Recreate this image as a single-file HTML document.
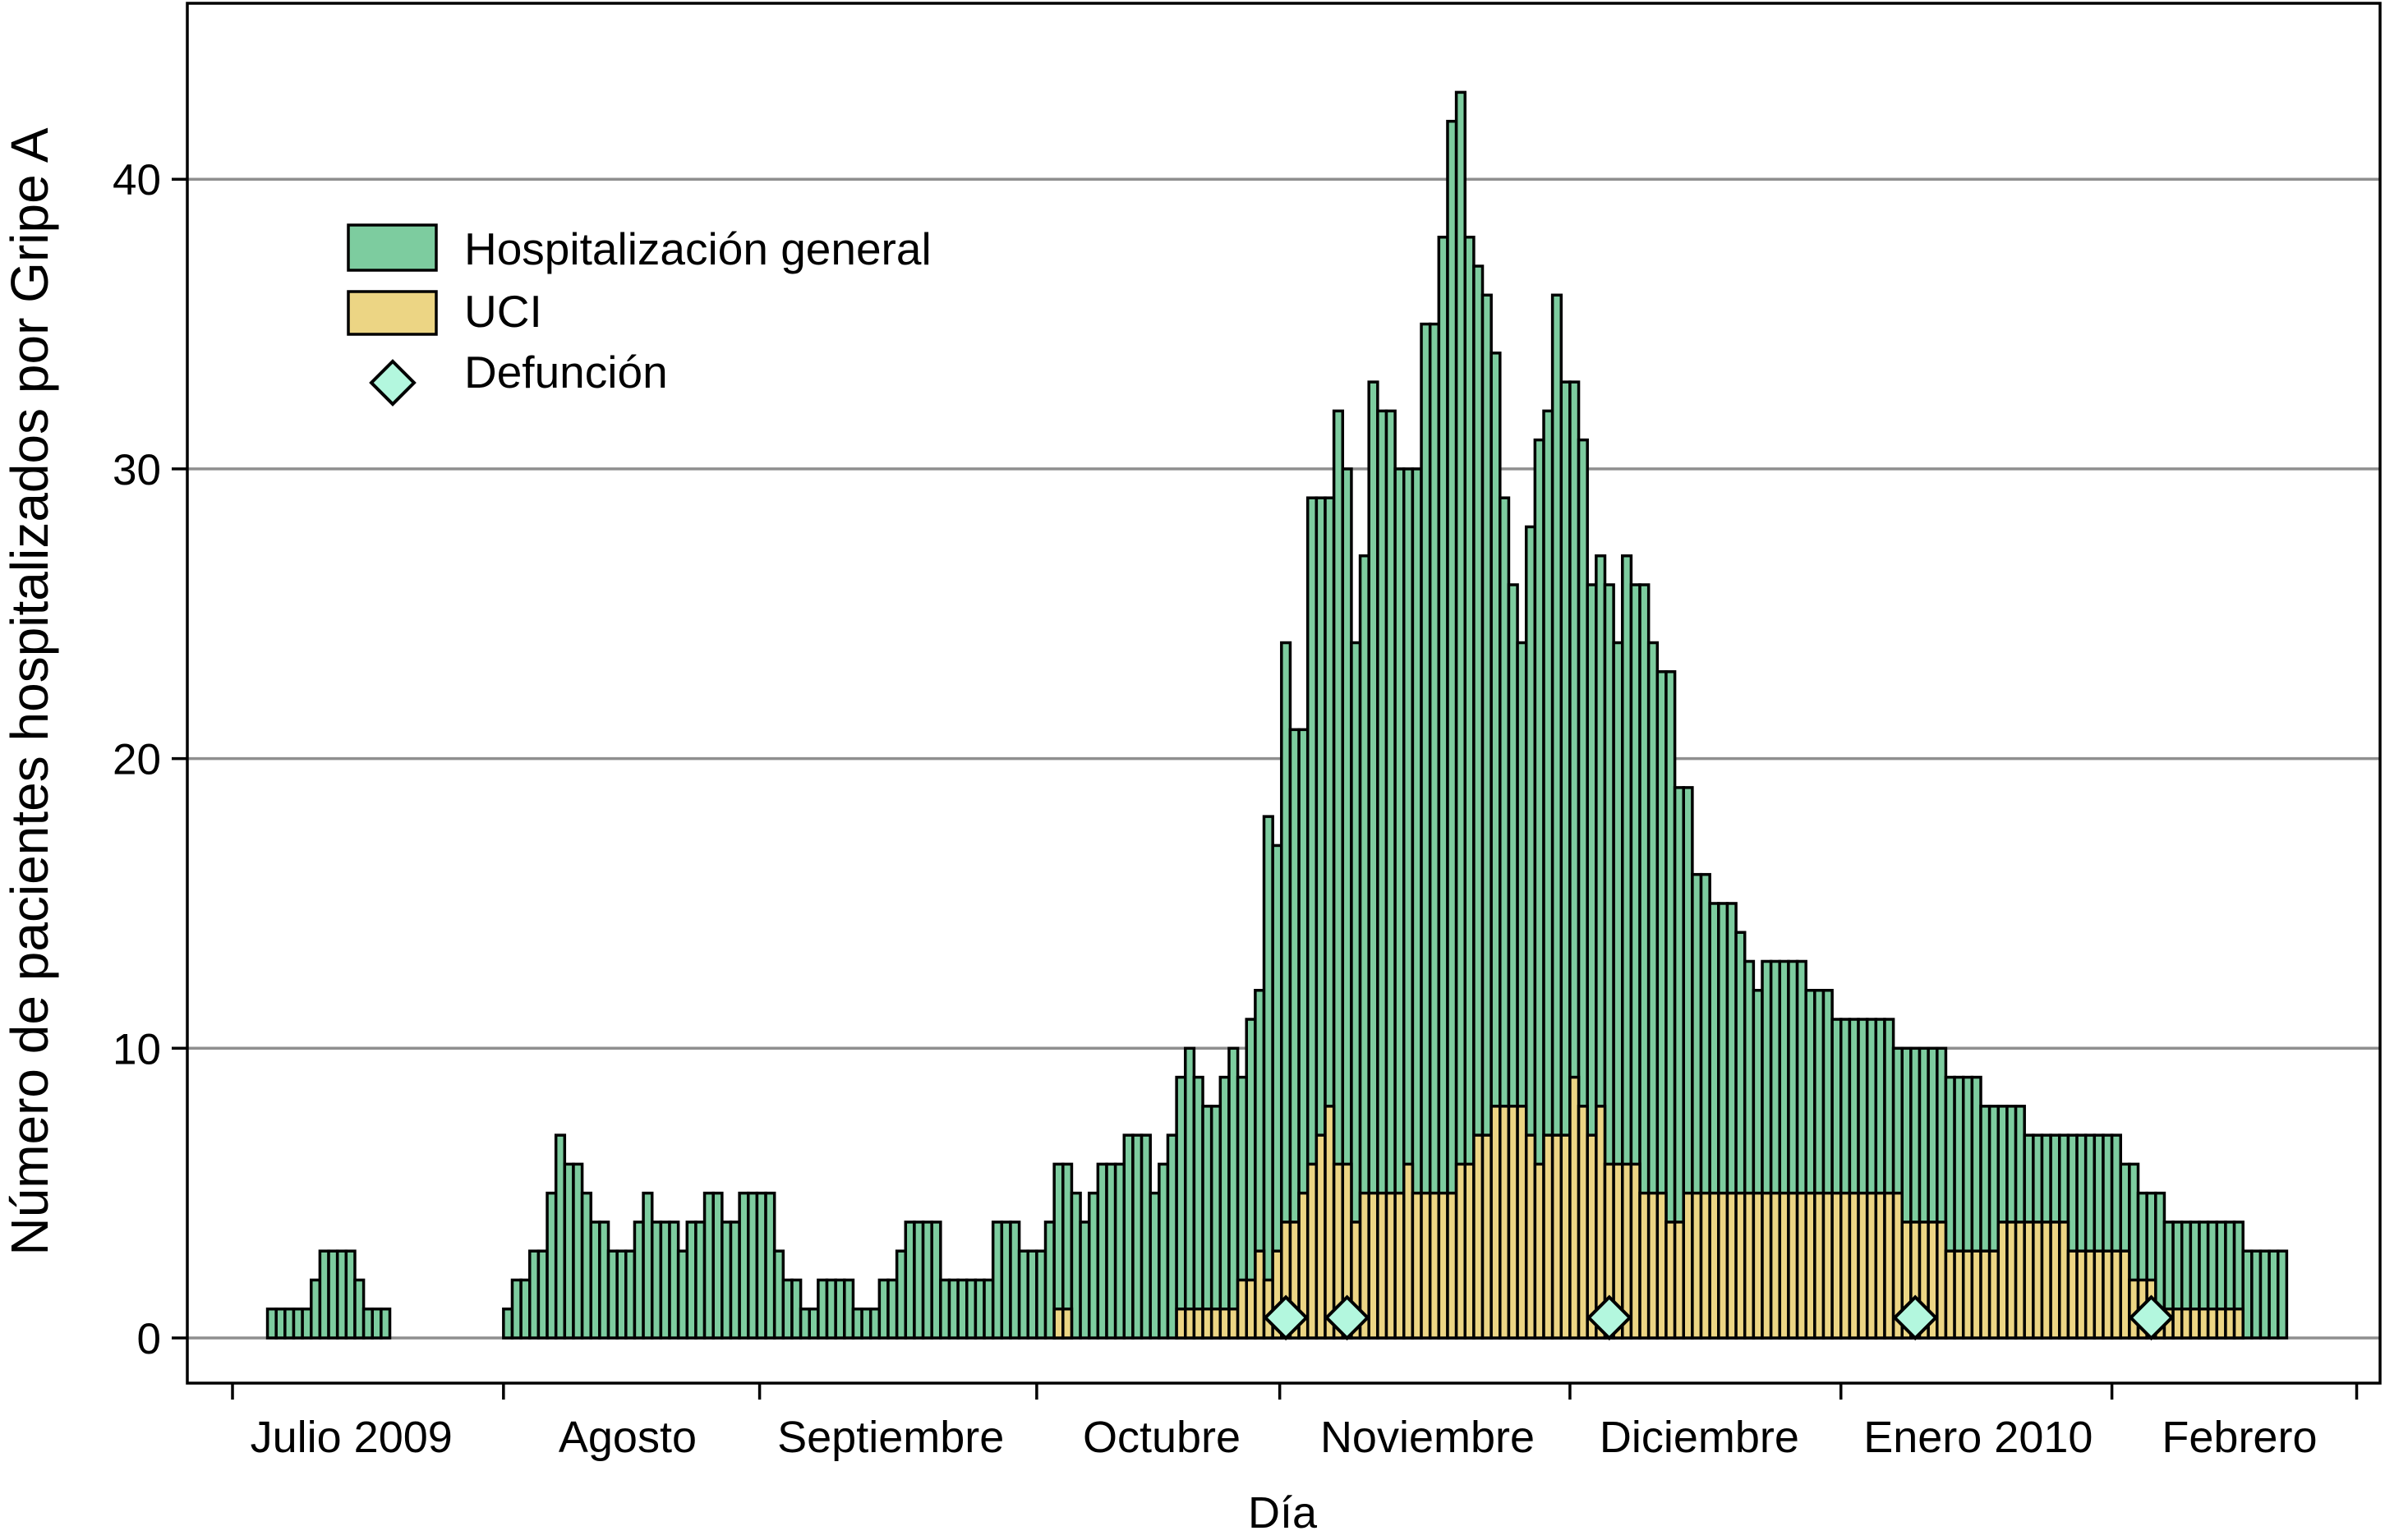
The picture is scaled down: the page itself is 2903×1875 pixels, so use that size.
<!DOCTYPE html>
<html><head><meta charset="utf-8"><style>
html,body{margin:0;padding:0;background:#fff;}
svg{display:block;font-family:"Liberation Sans",Arial,sans-serif;}
</style></head><body>
<svg id="chart" width="2903" height="1875" viewBox="0 0 2903 1875" xmlns="http://www.w3.org/2000/svg">
<g id="grid"></g>
<g id="bars"></g>
<g id="deaths"></g>
<rect x="228" y="4" width="2669" height="1680" fill="none" stroke="#000" stroke-width="3.5"/>
<g id="yaxis"></g>
<g id="xaxis"></g>
<text x="0" y="0" transform="translate(58,842) rotate(-90)" text-anchor="middle" font-size="64">Número de pacientes hospitalizados por Gripe A</text>
<text x="1561" y="1860" text-anchor="middle" font-size="54">Día</text>
<g>
<g>
<rect x="424" y="274" width="107" height="55" fill="#7dcc9f" stroke="#000" stroke-width="3.5"/>
<text x="565" y="322" font-size="55">Hospitalización general</text>
</g>
<g>
<rect x="424" y="355" width="107" height="52" fill="#ecd584" stroke="#000" stroke-width="3.5"/>
<text x="565" y="398" font-size="55">UCI</text>
</g>
<g>
<polygon points="478,440 504,466 478,492 452,466" fill="#b3f7de" stroke="#000" stroke-width="4"/>
<text x="565" y="472" font-size="55">Defunción</text>
</g>
</g>
</svg>
<script>
// daily values, day 0 = 1 July 2009
const generalValues = [0,0,0,0, 1,1,1,1,1,2,3,3,3,3,2,1,1,1, 0,0,0,0,0,0,0,0,0,0,0,0,0,
 1,2,2,3,3,5,7,6,6,5,4,4,3,3,3,
 4,5,4,4,4,3,4,4,5,5,4,4,5,5,5,5,3,2,2,1,1,2,2,2,2,1,1,1,2,2,3,4,4,4,4,2,2,2,2,2,2,4,4,4,3,3,3,
 4,
 6,6,5,4,5,6,6,6,7,7,7,5,6,7,9,10,9,8,8,9,10,9,11,12,
 18,17,24,21,21,29,29,29,32,30,24,27,33,32,32,30,30,30,35,35,38,42,43,38,37,36,34,
 29,26,24,28,31,32,36,33,33,31,26,27,26,24,27,26,26,24,23,23,19,19,16,16,
 15,15,15,14,13,12,13,13,13,13,13,12,12,12,11,11,11,11,11,11,11,10,10,10,10,10,10,9,9,9,9,8,8,8,8,8,
 7,7,7,7,7,7,7,7,7,7,7,6,6,5,5,5,4,4,4,4,4,4,4,4,4,3,3,3,3,3];
const uciValues = [0,0,0,0,0,0,0,0,0,0,0,0,0,0,0,0,0,0,0,0,0,0,0,0,0,0,0,0,0,0,0,
 0,0,0,0,0,0,0,0,0,0,0,0,0,0,0,
 0,0,0,0,0,0,0,0,0,0,0,0,0,0,0,0,0,0,0,0,0,0,0,0,0,0,0,0,0,0,0,0,0,0,0,0,0,0,0,0,0,0,0,0,0,0,0,
 0,
 1,1,0,0,0,0,0,0,0,0,0,0,0,0,1,1,1,1,1,1,1,2,2,3,
 2,3,4,4,5,6,7,8,6,6,4,5,5,5,5,5,6,5,5,5,5,5,6,6,7,7,8,
 8,8,8,7,6,7,7,7,9,8,7,8,6,6,6,6,5,5,5,4,4,5,5,5,
 5,5,5,5,5,5,5,5,5,5,5,5,5,5,5,5,5,5,5,5,5,5,4,4,4,4,4,3,3,3,3,3,3,4,4,4,4,4,4,4,4,
 3,3,3,3,3,3,3,2,2,2,1,1,1,1,1,1,1,1,1,1,0,0,0,0,0];
const deathDays = [120,127,157,192,219];
const deathLevel = [0.7,0.7,0.7,0.7,0.7];
const yTicks = [0,10,20,30,40];
const monthTickDays = [0,31,60.3,92,119.8,153,184,215,243];
const monthLabelDays = [13.6,45.2,75.3,106.3,136.7,167.8,199.7,229.6];
const monthLabels = ["Julio 2009","Agosto","Septiembre","Octubre","Noviembre","Diciembre","Enero 2010","Febrero"];

const NS = "http://www.w3.org/2000/svg";
const X0 = 283, DAYW = 10.64, Y0 = 1629, UNIT = 35.27;
function xScale(d){ return X0 + d*DAYW; }
function yScale(v){ return Y0 - v*UNIT; }
function mk(tag, attrs, parent){ const e=document.createElementNS(NS,tag); for(const k in attrs) e.setAttribute(k,attrs[k]); parent.appendChild(e); return e; }

const grid=document.getElementById('grid'), bars=document.getElementById('bars'),
 deaths=document.getElementById('deaths'), yaxis=document.getElementById('yaxis'), xaxis=document.getElementById('xaxis');

yTicks.forEach(t=>{
  const l=mk('line',{x1:228,x2:2897,y1:yScale(t),y2:yScale(t),stroke:'#8f8f8f','stroke-width':3.5},grid);
  
  
  const tk=mk('line',{x1:209,x2:228,y1:yScale(t),y2:yScale(t),stroke:'#000','stroke-width':3.5},yaxis);
  
  
  const tx=mk('text',{x:196,y:yScale(t)+19,'text-anchor':'end','font-size':53},yaxis);
  tx.textContent=t;
  
  
});

generalValues.forEach((v,d)=>{
  if(v<=0) return;
  const r=mk('rect',{x:xScale(d),y:yScale(v),width:DAYW,height:v*UNIT,fill:'#7dcc9f',stroke:'#000','stroke-width':3.5},bars);
  
  
});
uciValues.forEach((v,d)=>{
  if(v<=0) return;
  const r=mk('rect',{x:xScale(d),y:yScale(v),width:DAYW,height:v*UNIT,fill:'#ecd584',stroke:'#000','stroke-width':3.5},bars);
  
  
});
deathDays.forEach((d,i)=>{
  const cx=xScale(d)+DAYW/2, cy=yScale(deathLevel[i]), h=25;
  const p=mk('polygon',{points:`${cx},${cy-h} ${cx+h},${cy} ${cx},${cy+h} ${cx-h},${cy}`,fill:'#b3f7de',stroke:'#000','stroke-width':4},deaths);
  
  
});
monthTickDays.forEach((d)=>{
  const tk=mk('line',{x1:xScale(d),x2:xScale(d),y1:1684,y2:1704,stroke:'#000','stroke-width':3.5},xaxis);
  
  
});
monthLabels.forEach((lab,i)=>{
  const tx=mk('text',{x:xScale(monthLabelDays[i]),y:1768,'text-anchor':'middle','font-size':54},xaxis);
  tx.textContent=lab;
  
  
});
</script>
</body></html>
